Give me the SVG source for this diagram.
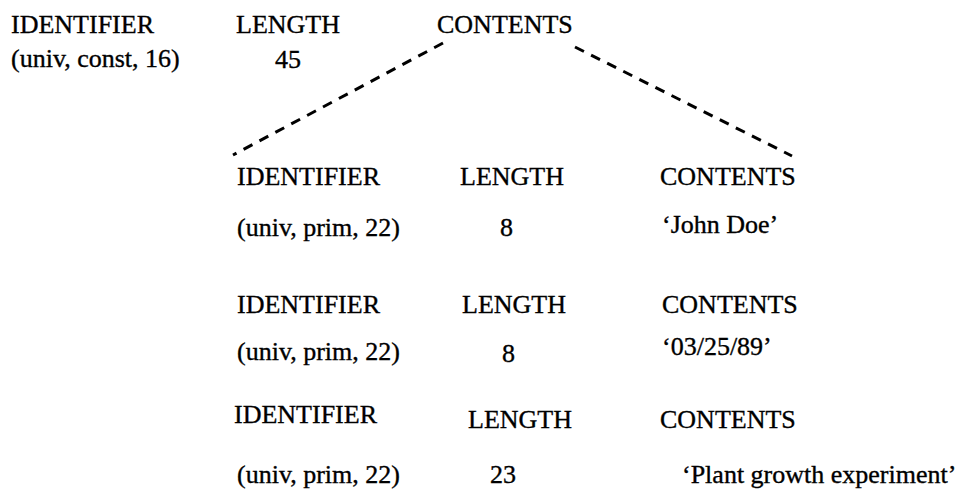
<svg xmlns="http://www.w3.org/2000/svg" width="964" height="492" viewBox="0 0 964 492">
<style>
text{font-family:"Liberation Serif","Times New Roman",serif;font-size:26px;fill:#000;stroke:#000;stroke-width:0.35}
.dash{stroke:#000;stroke-width:3;stroke-dasharray:10 8;fill:none}
</style>
<rect width="964" height="492" fill="#fff"/>
<g id="outer">
<text x="11" y="33">IDENTIFIER</text>
<text x="236" y="33">LENGTH</text>
<text x="437" y="33">CONTENTS</text>
<text x="11" y="67">(univ, const, 16)</text>
<text x="275" y="68">45</text>
</g>
<g id="connectors">
<line class="dash" x1="443" y1="43" x2="233" y2="155"/>
<line class="dash" x1="575" y1="47" x2="792" y2="156"/>
</g>
<g id="name">
<text x="237" y="185">IDENTIFIER</text>
<text x="460" y="185">LENGTH</text>
<text x="660" y="185">CONTENTS</text>
<text x="237" y="236">(univ, prim, 22)</text>
<text x="500" y="236">8</text>
<text x="662" y="233">‘John Doe’</text>
</g>
<g id="date">
<text x="237" y="313">IDENTIFIER</text>
<text x="462" y="313">LENGTH</text>
<text x="662" y="313">CONTENTS</text>
<text x="237" y="360">(univ, prim, 22)</text>
<text x="502" y="362">8</text>
<text x="662" y="355">‘03/25/89’</text>
</g>
<g id="experiment">
<text x="234" y="423">IDENTIFIER</text>
<text x="468" y="428">LENGTH</text>
<text x="660" y="428">CONTENTS</text>
<text x="237" y="483">(univ, prim, 22)</text>
<text x="490" y="483">23</text>
<text x="682" y="483">‘Plant growth experiment’</text>
</g>
</svg>
